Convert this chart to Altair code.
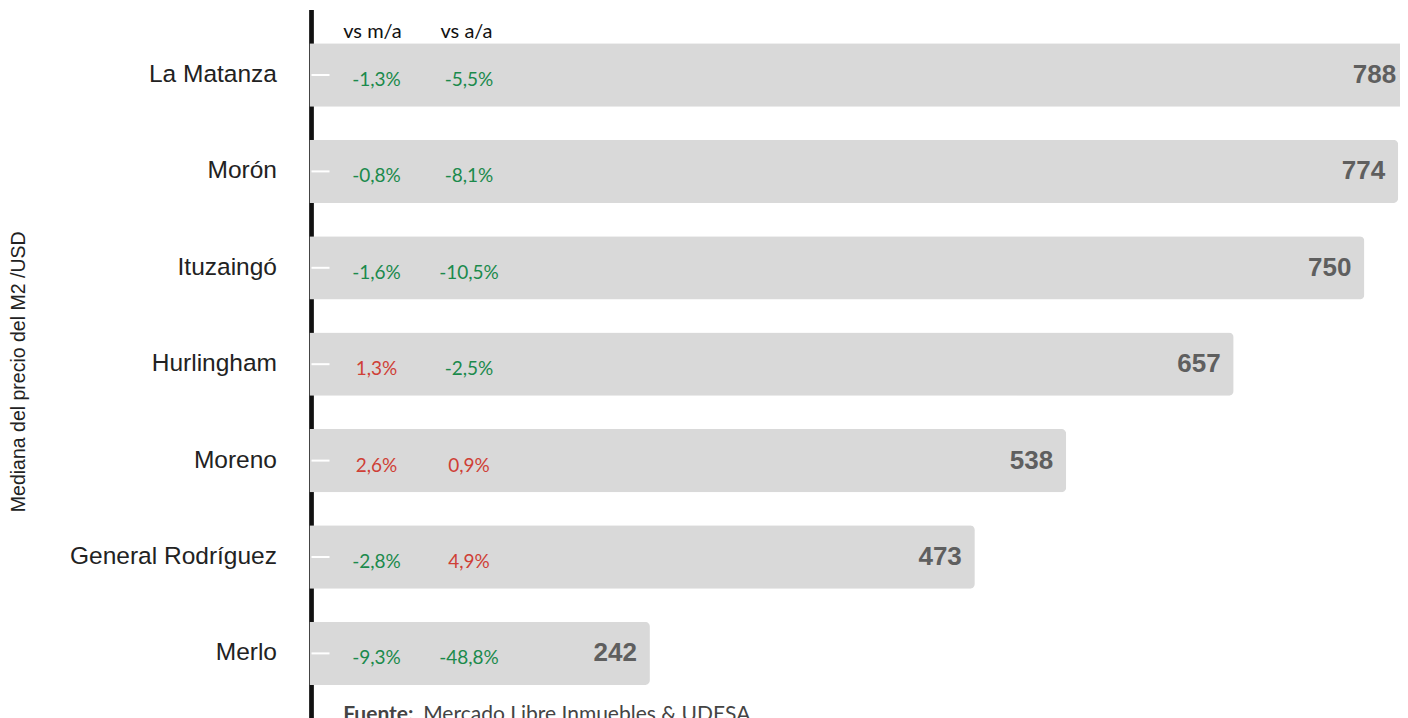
import altair as alt
import pandas as pd

# ---- data ----
municipios = ["La Matanza", "Morón", "Ituzaingó", "Hurlingham", "Moreno", "General Rodríguez", "Merlo"]
mediana_usd = [788, 774, 750, 657, 538, 473, 242]
var_mensual = [-1.3, -0.8, -1.6, 1.3, 2.6, -2.8, -9.3]
var_anual = [-5.5, -8.1, -10.5, -2.5, 0.9, 4.9, -48.8]
encabezados = ["vs m/a", "vs a/a"]
titulo_y = ["Mediana del precio del M2 /USD"]
fuente_bold = ["Fuente:"]
fuente_txt = ["Mercado Libre Inmuebles & UDESA"]


def fmt(v):
    return f"{v:.1f}".replace(".", ",") + "%"


df = pd.DataFrame({
    "municipio": municipios,
    "mediana": mediana_usd,
    "ma": var_mensual,
    "aa": var_anual,
})
df["ma_txt"] = [fmt(v) for v in var_mensual]
df["aa_txt"] = [fmt(v) for v in var_anual]
df["ma_sign"] = ["sube" if v > 0 else "baja" for v in var_mensual]
df["aa_sign"] = ["sube" if v > 0 else "baja" for v in var_anual]

GREEN = "#1b8a4c"
RED = "#cf3f36"
PCT_FONT = "Lato"

color_scale = alt.Scale(domain=["baja", "sube"], range=[GREEN, RED])

PAD_L = 301.5
W = 1392 - PAD_L
H = 674.8
X_MAX = W / 1.4066

y_scale = alt.Scale(paddingInner=0.343, paddingOuter=0.1715)
y_enc = alt.Y("municipio:N", sort=municipios, scale=y_scale, axis=None)
x_scale = alt.Scale(domain=[0, X_MAX], nice=False, zero=True)
x_q = alt.X("mediana:Q", scale=x_scale, axis=None)

base = alt.Chart(df)

axis_line = base.mark_rule(color="#111111", strokeWidth=3.5).encode(
    x=alt.value(2), y=alt.value(-16.8), y2=alt.value(691.2)
)

bars = base.mark_bar(color="#d9d9d9", cornerRadiusEnd=5).encode(
    x=x_q, y=y_enc
)

ticks = base.mark_rule(color="white", strokeWidth=2).encode(
    x=alt.value(2), x2=alt.value(20), y=y_enc
)

cat_labels = base.mark_text(
    align="right", baseline="middle", font="Liberation Sans", fontSize=24.5, color="#222222"
).encode(x=alt.value(-32.5), y=y_enc, text="municipio:N")

values = base.transform_calculate(
    lab_x=f"min(datum.mediana, {X_MAX + 6.5})"
).mark_text(
    align="right", baseline="alphabetic", dx=-13, dy=8,
    font="Liberation Sans", fontWeight="bold", fontSize=26, color="#5f5f5f",
).encode(x=alt.X("lab_x:Q", scale=x_scale, axis=None), y=y_enc, text="mediana:Q")

pct_ma = base.mark_text(
    align="center", baseline="alphabetic", dy=11, font=PCT_FONT, fontSize=19,
).encode(
    x=alt.value(67), y=y_enc, text="ma_txt:N",
    color=alt.Color("ma_sign:N", scale=color_scale, legend=None),
)

pct_aa = base.mark_text(
    align="center", baseline="alphabetic", dy=11, font=PCT_FONT, fontSize=19,
).encode(
    x=alt.value(159.5), y=y_enc, text="aa_txt:N",
    color=alt.Color("aa_sign:N", scale=color_scale, legend=None),
)

ytitle = alt.Chart(pd.DataFrame({"t": titulo_y})).mark_text(
    align="center", baseline="middle", angle=270, font="Liberation Sans",
    fontSize=19.5, color="#222222"
).encode(x=alt.value(-290.5), y=alt.value(345), text="t:N")

hdr1 = alt.Chart(pd.DataFrame({"t": [encabezados[0]]})).mark_text(
    align="center", baseline="alphabetic", font=PCT_FONT, fontSize=20, color="#111111"
).encode(x=alt.value(63), y=alt.value(11), text="t:N")

hdr2 = alt.Chart(pd.DataFrame({"t": [encabezados[1]]})).mark_text(
    align="center", baseline="alphabetic", font=PCT_FONT, fontSize=20, color="#111111"
).encode(x=alt.value(157), y=alt.value(11), text="t:N")

foot1 = alt.Chart(pd.DataFrame({"t": fuente_bold})).mark_text(
    align="left", baseline="alphabetic", font=PCT_FONT, fontSize=21,
    fontWeight="bold", color="#444444"
).encode(x=alt.value(33.7), y=alt.value(694), text="t:N")

foot2 = alt.Chart(pd.DataFrame({"t": fuente_txt})).mark_text(
    align="left", baseline="alphabetic", font=PCT_FONT, fontSize=21, color="#444444"
).encode(x=alt.value(113.7), y=alt.value(694), text="t:N")

chart = alt.layer(
    axis_line, bars, ticks, cat_labels, values, pct_ma, pct_aa, ytitle,
    hdr1, hdr2, foot1, foot2
).properties(
    width=W,
    height=H,
    autosize=alt.AutoSizeParams(type="none"),
    padding={"left": PAD_L, "top": 18.8, "right": 0, "bottom": 16.4},
    background="white",
).configure_view(stroke=None)

chart.save("out.html", embed_options={"renderer": "svg", "actions": False})
